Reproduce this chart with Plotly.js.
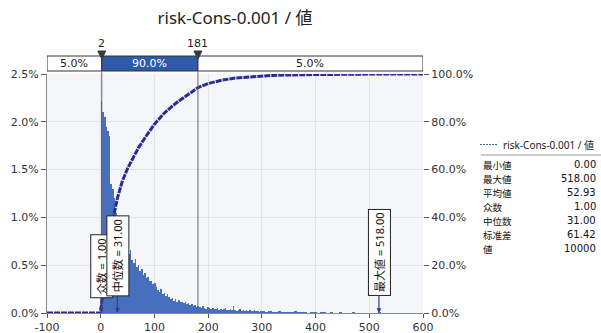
<!DOCTYPE html>
<html><head><meta charset="utf-8">
<script src="https://cdn.plot.ly/plotly-3.0.1.min.js"></script>
<style>html,body{margin:0;padding:0;background:#fff}#c{width:601px;height:333px}</style>
</head><body><div id="c"></div>
<script>
// ---- data ----
const titleText = 'risk-Cons-0.001 / 値';
// histogram density (% per unit), bins of width 3 from 0 to 300
const histA = [2.22,2.10,2.05,1.95,1.90,1.85,1.35,1.30,1.20,1.05,
  1.00,0.92,0.85,0.80,0.76,0.72,0.70,0.62,0.66,0.55,
  0.52,0.56,0.48,0.50,0.44,0.46,0.40,0.42,0.37,0.38,
  0.33,0.34,0.30,0.31,0.27,0.24,0.22,0.25,0.20,0.21,
  0.18,0.20,0.17,0.15,0.16,0.13,0.15,0.12,0.14,0.11,
  0.12,0.10,0.11,0.09,0.10,0.08,0.09,0.07,0.08,0.06,
  0.07,0.06,0.05,0.07,0.05,0.04,0.06,0.05,0.04,0.05,
  0.04,0.04,0.05,0.03,0.04,0.03,0.04,0.05,0.03,0.03,
  0.04,0.03,0.07,0.03,0.02,0.03,0.04,0.02,0.03,0.02,
  0.03,0.02,0.03,0.02,0.02,0.03,0.02,0.02,0.01,0.02];
// tail, bins of width 6 from 300 to 522
const histB = [0.02,0.01,0.02,0.01,0.01,0.02,0.01,0.01,0.01,0.01,
  0.02,0.01,0.01,0.01,0.0,0.01,0.01,0.0,0.01,0.01,
  0.0,0.01,0.0,0.0,0.01,0.0,0.0,0.0,0.01,0.0,
  0.0,0.0,0.0,0.0,0.0,0.0,0.01];
// cumulative curve (%)
const cdfX = [-100,0,1,2,4,7,10,15,20,25,31,40,50,60,70,80,90,100,120,140,160,181,200,225,250,280,320,370,430,518,600];
const cdfY = [0,0,3,5,9,14.5,20,28,35,41.5,48,55,60.5,65,69,72.5,76,79,84,87.8,91,94.3,96,97.4,98.3,98.9,99.4,99.7,99.9,100,100];
const delimiters = [2,181];
const delimPct = ['5.0%','90.0%','5.0%'];
const markerLabels = ['众数 = 1.00','中位数 = 31.00','最大値 = 518.00'];
const markerX = [1,31,518];
const statLabels = ['最小値','最大値','平均値','众数','中位数','标准差','値'];
const statValues = ['0.00','518.00','52.93','1.00','31.00','61.42','10000'];
const xTicks = [-100,0,100,200,300,400,500,600];
const yTicks = [0,0.5,1,1.5,2,2.5];
const y2Ticks = [0,20,40,60,80,100];

// ---- geometry helpers ----
const W=601,H=333, L=47, R=423, T=74, B=313;
const pw=R-L, ph=B-T;
const px2x = p => (p-L)/pw;          // pixel -> paper x
const px2y = p => (B-p)/ph;          // pixel -> paper y
const XMIN=-100, XMAX=600;
const unitsPerPx = (XMAX-XMIN)/pw;

const FONT = 'Noto Sans, Noto Sans CJK JP, sans-serif';
const TICKFONT = {family:'DejaVu Sans, Noto Sans CJK JP', size:11, color:'#333'};

const hx=[], hy=[], hw=[];
histA.forEach((v,i)=>{hx.push(1.5+3*i); hy.push(v); hw.push(3);});
histB.forEach((v,i)=>{hx.push(303+6*i); hy.push(v); hw.push(6);});

const traces = [
  {type:'bar', x:hx, y:hy, width:hw, yaxis:'y',
   marker:{color:'#3660b8', line:{width:0},
     pattern:{shape:'|', fgcolor:'rgba(255,255,255,0.45)', bgcolor:'#3660b8', size:2, solidity:0.2}},
   hoverinfo:'skip', showlegend:false},
  {type:'scatter', mode:'lines', x:cdfX, y:cdfY, yaxis:'y2',
   line:{color:'#2d2b8f', width:3, dash:'6px,1px', shape:'linear'},
   hoverinfo:'skip', showlegend:false}
];

const shapes=[], ann=[];
// delimiter bar
const segs=[[XMIN,delimiters[0]],[delimiters[0],delimiters[1]],[delimiters[1],XMAX]];
segs.forEach((s,i)=>{
  const mid = i===1;
  shapes.push({type:'rect', xref:'x', yref:'paper', x0:s[0], x1:s[1], y0:px2y(71), y1:px2y(56),
    fillcolor: mid?'#2f5aa9':'#ffffff', line:{color:'#333', width:1}});
  ann.push({xref:'x', yref:'paper', x:(s[0]+s[1])/2, y:px2y(63.5), text:delimPct[i], showarrow:false,
    font:{family:'DejaVu Sans', size:11, color: mid?'#fff':'#222'}, yanchor:'middle'});
});
delimiters.forEach(d=>{
  shapes.push({type:'line', xref:'x', yref:'paper', x0:d, x1:d, y0:0, y1:px2y(71), line:{color:'#666', width:1}});
  ann.push({xref:'x', yref:'paper', x:d, y:px2y(43), text:String(d), showarrow:false,
    font:{family:'DejaVu Sans', size:11, color:'#222'}, yanchor:'middle'});
  const hwu = 4*unitsPerPx;
  shapes.push({type:'path', xref:'x', yref:'paper',
    path:`M ${d-hwu} ${px2y(51)} L ${d+hwu} ${px2y(51)} L ${d} ${px2y(59)} Z`,
    fillcolor:'#3a3a3a', line:{color:'#3a3a3a', width:1}});
});
// statistic markers
const ays=[-47,-57,-61];
markerLabels.forEach((t,i)=>{
  ann.push({xref:'x', yref:'y', x:markerX[i], y:0, text:t, textangle:-90, showarrow:true,
    ax:0, ay:ays[i], arrowhead:2, arrowsize:0.8, arrowwidth:1.2, arrowcolor:'#2d3b8f', standoff:0,
    bgcolor:'#fff', bordercolor:'#222', borderwidth:1, borderpad:3,
    font:{family:FONT, size:11, color:'#111'}});
});
// legend
shapes.push({type:'line', xref:'paper', yref:'paper', x0:px2x(480), x1:px2x(497), y0:px2y(144.5), y1:px2y(144.5),
  line:{color:'#3a62b6', width:1, dash:'2px,1px'}});
ann.push({xref:'paper', yref:'paper', x:px2x(501), y:px2y(144.5), text:titleText, showarrow:false,
  xanchor:'left', yanchor:'middle', font:{family:FONT, size:10, color:'#222'}});
shapes.push({type:'line', xref:'paper', yref:'paper', x0:px2x(481), x1:px2x(601), y0:px2y(155), y1:px2y(155),
  line:{color:'#999', width:1}});
statLabels.forEach((t,i)=>{
  const yy = px2y(164.5+14*i);
  ann.push({xref:'paper', yref:'paper', x:px2x(482), y:yy, text:t, showarrow:false, xanchor:'left', yanchor:'middle',
    font:{family:'Noto Sans CJK JP', size:9.5, color:'#111'}, borderpad:0});
  ann.push({xref:'paper', yref:'paper', x:px2x(597), y:yy, text:statValues[i], showarrow:false, xanchor:'right', yanchor:'middle',
    font:{family:'DejaVu Sans', size:10, color:'#111'}, borderpad:0});
});

const layout = {
  width:W, height:H, margin:{l:L, r:W-R, t:T, b:H-B, pad:0},
  paper_bgcolor:'#fff', plot_bgcolor:'#f4f6fa', bargap:0, showlegend:false,
  title:{text:titleText, x:235/W, xanchor:'center', y:1-18/H, yanchor:'middle',
    font:{family:FONT, size:17, color:'#222'}},
  xaxis:{range:[XMIN,XMAX], tickvals:xTicks, ticktext:xTicks.map(String), showgrid:true, gridcolor:'#e2e4e9',
    zeroline:false, showline:true, linecolor:'#888', ticks:'outside', ticklen:4, tickcolor:'#555',
    tickfont:TICKFONT, fixedrange:true},
  yaxis:{range:[0,2.5], tickvals:yTicks, ticktext:yTicks.map(v=>v.toFixed(1)+'%'), showgrid:true, gridcolor:'#e2e4e9',
    zeroline:false, showline:true, linecolor:'#888', ticks:'outside', ticklen:5, tickcolor:'#555',
    tickfont:TICKFONT},
  yaxis2:{range:[0,100], overlaying:'y', side:'right', tickvals:y2Ticks, ticktext:y2Ticks.map(v=>v.toFixed(1)+'%'),
    showgrid:false, zeroline:false, showline:false, ticks:'outside', ticklen:5, tickcolor:'#555', tickfont:TICKFONT},
  shapes:shapes, annotations:ann
};
Plotly.newPlot('c', traces, layout, {staticPlot:true, displayModeBar:false});
</script></body></html>
